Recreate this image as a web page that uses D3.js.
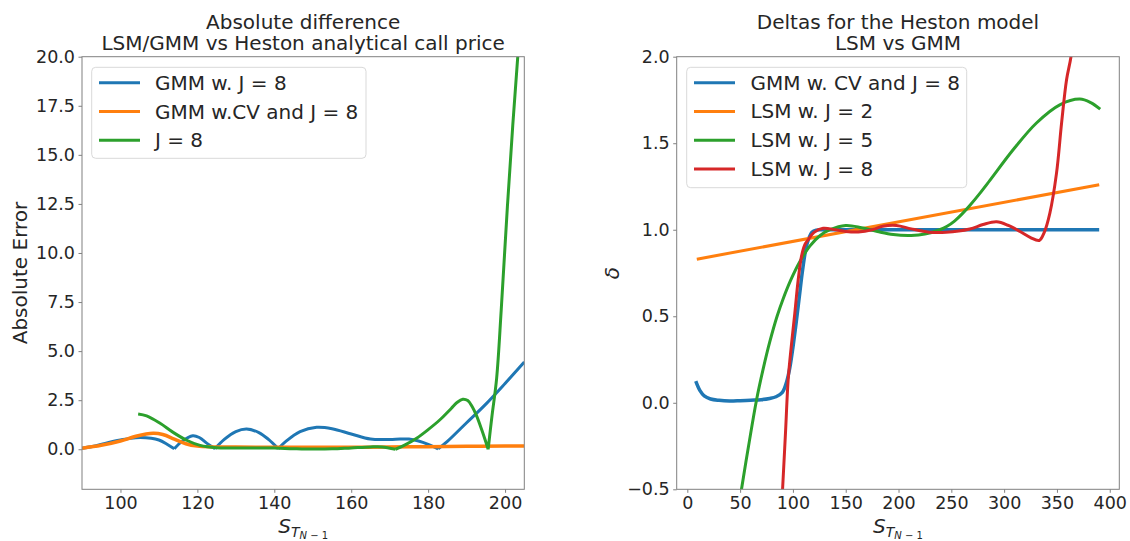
<!DOCTYPE html>
<html>
<head>
<meta charset="utf-8">
<script src="https://cdn.jsdelivr.net/npm/d3@7"></script>
<style>
  html, body { margin: 0; padding: 0; background: #fff; }
  svg { display: block; }
  text { font-family: "DejaVu Sans", sans-serif; fill: #262626; }
</style>
</head>
<body>
<svg id="chart" width="1130" height="541"></svg>
<script>
// ---------------- DATA ----------------
// Left panel: absolute errors
const absBlueX  = [90,93,96,100,104,108,110,112,114,116,118.8,120.5,122.5,124.6,127,130,132.8,136,138.5,141,143,146.7,151,155,160,165,170,172.7,175,177.5,180,182.6,185,190,195,200,205];
const absBlueY  = [0.05,0.15,0.3,0.47,0.59,0.56,0.47,0.27,0.02,0.4,0.69,0.6,0.3,0.03,0.5,0.9,1.03,0.85,0.5,0.03,0.4,0.9,1.12,1.05,0.78,0.52,0.5,0.52,0.52,0.42,0.25,0.02,0.4,1.35,2.3,3.35,4.44];
const absBlueCusps = [114,124.6,141,182.6];

const absOrangeX = [90,95,100,104,108.5,111,114,117,120,124,130,140,150,160,170,180,190,200,205];
const absOrangeY = [0.05,0.2,0.42,0.66,0.81,0.75,0.52,0.28,0.16,0.12,0.11,0.1,0.1,0.1,0.12,0.13,0.15,0.16,0.17];

const absGreenX = [104.6,106.8,110.3,113.7,117.2,120.7,125,130,135,140,145,150,155,160,165,168,171.5,174,177,180,183,186,187.5,189,190.3,191.5,192.6,194,195.6,196.6,197.8,199,200.6,202,203.3,205];
const absGreenY = [1.8,1.7,1.32,0.86,0.46,0.2,0.08,0.07,0.07,0.06,0.03,0.01,0.02,0.07,0.12,0.12,0.0,0.22,0.56,1.0,1.49,2.08,2.38,2.55,2.48,2.15,1.7,0.95,0.0,1.7,3.6,7.1,12.35,16.5,20,25];
const absGreenCusps = [171.5,195.6];

const leftLegend = ["GMM w. J = 8", "GMM w.CV and J = 8", "J = 8"];
const leftXTicks = [100,120,140,160,180,200];
const leftYTicks = [0,2.5,5,7.5,10,12.5,15,17.5,20];

// Right panel: deltas
const dBlueX = [8,12,16,22,30,40,50,60,70,78,84,90,94,97,100,103,106,109,112,115,118,122,130,200,300,390];
const dBlueY = [0.125,0.07,0.04,0.022,0.014,0.01,0.012,0.015,0.018,0.025,0.035,0.06,0.12,0.2,0.32,0.46,0.61,0.76,0.88,0.95,0.985,0.998,1.0,1.0,1.0,1.0];

const dOrangeX = [9,390];
const dOrangeY = [0.83,1.26];

const dGreenX = [9,25,40,51.3,58,65.5,72,78,85,90.7,98,106.5,116,125.5,135,150,165,180,195,212,225,239,246,253,260,267.5,277,286.5,308.5,330.6,352.7,371.7,382,391];
const dGreenY = [-2.5,-1.6,-0.95,-0.5,-0.25,0.015,0.2,0.35,0.5,0.6,0.71,0.815,0.905,0.965,1.0,1.025,1.012,0.99,0.972,0.967,0.975,1.0,1.02,1.05,1.09,1.14,1.21,1.285,1.462,1.617,1.722,1.755,1.735,1.697];

const dRedX = [9,60,80,85,90.2,93,95.5,98.5,101.8,105,108.1,111,114.4,120,128.6,140,150,162,175,185,198,212,229,245,267.5,280,292.8,304,315,325,333.2,338,343.3,349.6,354.4,359.1,363.8,370,380,390];
const dRedY = [-8,-4,-1.8,-1.15,-0.5,-0.17,0.133,0.33,0.518,0.711,0.846,0.91,0.942,0.985,1.008,1.0,0.99,0.987,1.0,1.02,1.025,1.005,0.986,0.985,1.004,1.03,1.046,1.025,0.99,0.955,0.938,0.985,1.096,1.327,1.617,1.867,2.02,2.5,3.5,4.8];

const rightLegend = ["GMM w. CV and J = 8", "LSM w. J = 2", "LSM w. J = 5", "LSM w. J = 8"];
const rightXTicks = [0,50,100,150,200,250,300,350,400];
const rightYTicks = [-0.5,0,0.5,1.0,1.5,2.0];

const colors = ["#1f77b4", "#ff7f0e", "#2ca02c", "#d62728"];

// ---------------- DRAW ----------------
const svg = d3.select("#chart");
const zip = (xs, ys) => xs.map((x, i) => [x, ys[i]]);

function panel(cfg) {
  const g = svg.append("g");
  const x = d3.scaleLinear().domain(cfg.xDomain).range([cfg.x0, cfg.x1]);
  const y = d3.scaleLinear().domain(cfg.yDomain).range([cfg.y1, cfg.y0]);

  const clipId = "clip" + cfg.id;
  svg.append("clipPath").attr("id", clipId).append("rect")
    .attr("x", cfg.x0).attr("y", cfg.y0)
    .attr("width", cfg.x1 - cfg.x0).attr("height", cfg.y1 - cfg.y0);

  const line = d3.line().x(d => x(d[0])).y(d => y(d[1])).curve(d3.curveCatmullRom.alpha(0.5));

  const plot = g.append("g").attr("clip-path", `url(#${clipId})`);
  cfg.series.forEach(s => {
    const pts = zip(s.x, s.y);
    let dstr = "";
    if (s.cusps && s.cusps.length) {
      let seg = [];
      pts.forEach(p => {
        seg.push(p);
        if (s.cusps.includes(p[0])) { dstr += line(seg); seg = [p]; }
      });
      if (seg.length > 1) dstr += line(seg);
    } else {
      dstr = line(pts);
    }
    plot.append("path").attr("d", dstr).attr("fill", "none")
      .attr("stroke", s.color).attr("stroke-width", s.width)
      .attr("stroke-linejoin", "round").attr("stroke-linecap", "butt");
  });

  // axes
  const xAxis = d3.axisBottom(x).tickValues(cfg.xTicks).tickSize(3.5).tickPadding(3.5).tickFormat(d3.format("d"));
  const yAxis = d3.axisLeft(y).tickValues(cfg.yTicks).tickSize(3.5).tickPadding(3.5).tickFormat(d3.format(".1f"));
  const gx = g.append("g").attr("transform", `translate(0,${cfg.y1})`).call(xAxis);
  const gy = g.append("g").attr("transform", `translate(${cfg.x0},0)`).call(yAxis);
  [gx, gy].forEach(a => {
    a.select(".domain").remove();
    a.selectAll(".tick line").attr("stroke", "#808080").attr("stroke-width", 1);
    a.selectAll(".tick text").attr("font-size", 17.5).attr("font-family", "DejaVu Sans").attr("fill", "#262626");
  });

  // frame
  g.append("rect").attr("x", cfg.x0).attr("y", cfg.y0)
    .attr("width", cfg.x1 - cfg.x0).attr("height", cfg.y1 - cfg.y0)
    .attr("fill", "none").attr("stroke", "#808080").attr("stroke-width", 1);

  // title
  const cx = (cfg.x0 + cfg.x1) / 2;
  cfg.title.forEach((t, i) => {
    g.append("text").attr("x", cx).attr("y", 28.5 + i * 21.8)
      .attr("text-anchor", "middle").attr("font-size", 20).text(t);
  });

  // x label S_{T_{N-1}}
  const xl = g.append("text").attr("x", cx).attr("y", 532.5).attr("text-anchor", "middle");
  xl.append("tspan").attr("font-size", 20).attr("font-style", "italic").text("S");
  xl.append("tspan").attr("font-size", 14).attr("font-style", "italic").attr("dy", 4).text("T");
  const sub = xl.append("tspan").attr("font-size", 10).attr("dy", 2.5);
  sub.append("tspan").attr("font-style", "italic").text("N");
  sub.append("tspan").text(" \u2212 1");

  // y label
  const ly = (cfg.y0 + cfg.y1) / 2;
  const yl = g.append("text").attr("transform", `translate(${cfg.yLabelX},${ly}) rotate(-90)`)
    .attr("text-anchor", "middle").attr("font-size", 20);
  if (cfg.yLabelItalic) yl.attr("font-style", "italic");
  yl.text(cfg.yLabel);

  // legend
  const L = cfg.legend;
  const lg = g.append("g");
  lg.append("rect").attr("x", L.x).attr("y", L.y).attr("width", L.w).attr("height", L.h)
    .attr("rx", 4).attr("fill", "#fff").attr("fill-opacity", 0.8)
    .attr("stroke", "#d9d9d9").attr("stroke-width", 1);
  L.labels.forEach((lab, i) => {
    const yy = L.row0 + i * L.dy;
    lg.append("line").attr("x1", L.hx0).attr("x2", L.hx1).attr("y1", yy).attr("y2", yy)
      .attr("stroke", colors[i]).attr("stroke-width", 3);
    lg.append("text").attr("x", L.tx).attr("y", yy + 7).attr("font-size", 20).text(lab);
  });
}

panel({
  id: "L", x0: 82, x1: 524.3, y0: 56.7, y1: 489.3,
  xDomain: [90, 205], yDomain: [-2.04, 20],
  xTicks: leftXTicks, yTicks: leftYTicks,
  title: ["Absolute difference", "LSM/GMM vs Heston analytical call price"],
  yLabel: "Absolute Error", yLabelX: 27,
  series: [
    { x: absBlueX, y: absBlueY, cusps: absBlueCusps, color: colors[0], width: 3 },
    { x: absOrangeX, y: absOrangeY, color: colors[1], width: 3.5 },
    { x: absGreenX, y: absGreenY, cusps: absGreenCusps, color: colors[2], width: 3 }
  ],
  legend: { x: 91.7, y: 67.3, w: 274.3, h: 91, row0: 82.7, dy: 28.8, hx0: 99, hx1: 140, tx: 155, labels: leftLegend }
});

panel({
  id: "R", x0: 676.7, x1: 1119.3, y0: 56.7, y1: 489.3,
  xDomain: [-10.05, 409.05], yDomain: [-0.5, 2.0],
  xTicks: rightXTicks, yTicks: rightYTicks,
  title: ["Deltas for the Heston model", "LSM vs GMM"],
  yLabel: "\u03b4", yLabelX: 619, yLabelItalic: true,
  series: [
    { x: dBlueX, y: dBlueY, color: colors[0], width: 3.5 },
    { x: dOrangeX, y: dOrangeY, color: colors[1], width: 3 },
    { x: dGreenX, y: dGreenY, color: colors[2], width: 3 },
    { x: dRedX, y: dRedY, color: colors[3], width: 3 }
  ],
  legend: { x: 686.7, y: 67.3, w: 280, h: 120.4, row0: 82.7, dy: 28.77, hx0: 694, hx1: 735, tx: 750.4, labels: rightLegend }
});
</script>
</body>
</html>
